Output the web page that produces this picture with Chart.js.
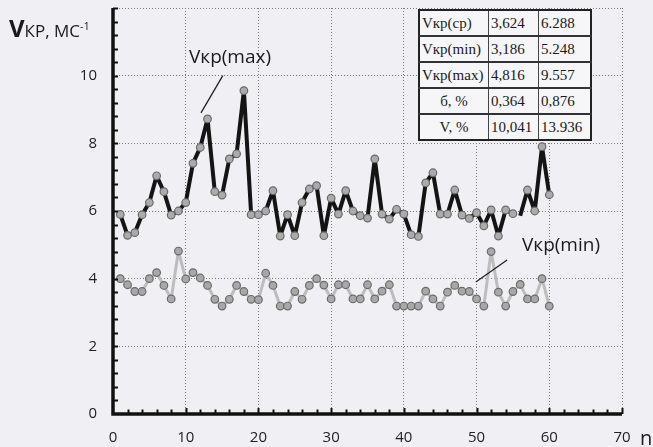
<!DOCTYPE html>
<html>
<head>
<meta charset="utf-8">
<script src="https://cdn.jsdelivr.net/npm/chart.js@4.4.1/dist/chart.umd.min.js"></script>
<style>
  html, body { margin: 0; padding: 0; background: #f0f0f4; }
  #wrap { position: relative; width: 653px; height: 447px; overflow: hidden; }
  #c { position: absolute; left: 0; top: 0; }
  .lbl { position: absolute; font-family: "Open Sans", sans-serif; color: #1a1a1a; white-space: nowrap; }
  #ytitle { left: 9px; top: 11px; font-size: 17px; }
  #ytitle b { font-size: 24px; font-weight: 700; }
  #ytitle sup { font-size: 11px; vertical-align: 7px; }
  #lmax { left: 189px; top: 43px; font-size: 19px; }
  #lmin { left: 522px; top: 231px; font-size: 19px; }
  #nlab { left: 640px; top: 424px; font-size: 20px; }
  #stats { position: absolute; left: 418px; top: 9px; border-collapse: collapse;
           background: #f6f6f8; font-family: "Liberation Serif", "Times New Roman", serif;
           font-size: 15px; color: #1a1a1a; border: 2px solid #222; }
  #stats td { height: 24px; padding: 0 2px; border-top: 2px solid #333; border-left: 1px solid #444;
              line-height: 24px; white-space: nowrap; }
  #stats tr:first-child td { border-top: none; }
  #stats td:first-child { border-left: none; width: 64px; }
  #stats td:nth-child(2) { width: 45px; }
  #stats td:nth-child(3) { width: 47px; }
  #stats td.c { text-align: center; }
</style>
</head>
<body>
<div id="wrap">
  <canvas id="c" width="653" height="447"></canvas>
  <div class="lbl" id="ytitle"><b>V</b>КР, МС<sup>-1</sup></div>
  <div class="lbl" id="lmax">Vкр(max)</div>
  <div class="lbl" id="lmin">Vкр(min)</div>
  <div class="lbl" id="nlab">n</div>
  <table id="stats"></table>
</div>
<script>
// measurement number n
const nValues = [1, 2, 3, 4, 5, 6, 7, 8, 9, 10,
                 11, 12, 13, 14, 15, 16, 17, 18, 19, 20,
                 21, 22, 23, 24, 25, 26, 27, 28, 29, 30,
                 31, 32, 33, 34, 35, 36, 37, 38, 39, 40,
                 41, 42, 43, 44, 45, 46, 47, 48, 49, 50,
                 51, 52, 53, 54, 55, 56, 57, 58, 59, 60];

// Vкр(max), m/s
const vMax = [5.90, 5.28, 5.36, 5.89, 6.25, 7.04, 6.57, 5.88, 6.00, 6.25,
              7.41, 7.88, 8.72, 6.57, 6.47, 7.54, 7.69, 9.557, 5.89, 5.89,
              6.00, 6.60, 5.26, 5.89, 5.27, 6.25, 6.65, 6.75, 5.27, 6.38,
              5.91, 6.60, 6.00, 5.86, 5.79, 7.54, 5.91, 5.76, 6.05, 5.91,
              5.30, 5.248, 6.83, 7.13, 5.91, 5.91, 6.62, 5.88, 5.78, 5.95,
              5.56, 6.03, 5.26, 6.03, 5.92, 5.86, 6.62, 6.00, 7.90, 6.48];

// Vкр(min), m/s
const vMin = [4.00, 3.82, 3.62, 3.62, 4.00, 4.18, 3.80, 3.40, 4.816, 3.99,
              4.18, 4.02, 3.80, 3.39, 3.19, 3.39, 3.80, 3.62, 3.39, 3.38,
              4.16, 3.80, 3.19, 3.19, 3.62, 3.39, 3.80, 4.00, 3.81, 3.40,
              3.82, 3.82, 3.40, 3.40, 3.82, 3.40, 3.63, 3.82, 3.19, 3.19,
              3.19, 3.19, 3.63, 3.40, 3.19, 3.60, 3.80, 3.63, 3.62, 3.40,
              3.19, 4.80, 3.60, 3.19, 3.62, 3.83, 3.40, 3.40, 4.00, 3.186];

// x-axis and y-axis tick labels
const xTicks = [0, 10, 20, 30, 40, 50, 60, 70];
const yTicks = [0, 2, 4, 6, 8, 10];

// summary table: row label, Vкр(min) column, Vкр(max) column
const statLabels = ['Vкр(ср)', 'Vкр(min)', 'Vкр(max)', 'б, %', 'V, %'];
const statMin = ['3,624', '3,186', '4,816', '0,364', '10,041'];
const statMax = ['6.288', '5.248', '9.557', '0,876', '13.936'];

// the max line has a break between these two measurements
const breakFrom = 55, breakTo = 56;

// build the summary table
const tbl = document.getElementById('stats');
statLabels.forEach((lab, i) => {
  const tr = document.createElement('tr');
  const a = document.createElement('td');
  a.textContent = lab;
  if (i >= 3) a.className = 'c';
  const b = document.createElement('td'); b.textContent = statMin[i];
  const c = document.createElement('td'); c.textContent = statMax[i];
  tr.append(a, b, c);
  tbl.appendChild(tr);
});

const toXY = vals => vals.map((v, i) => ({ x: nValues[i], y: v }));

const X_MIN = 0, X_MAX = 70, Y_MIN = 0, Y_MAX = 12;

// thick axes with inward minor ticks, plus label leader lines
const axesPlugin = {
  id: 'axes',
  afterDraw(chart) {
    const { ctx, scales: { x, y } } = chart;
    const px = v => x.getPixelForValue(v);
    const py = v => y.getPixelForValue(v);
    ctx.save();
    ctx.strokeStyle = '#111';
    ctx.lineCap = 'butt';
    ctx.lineWidth = 2;
    for (let k = 1; k <= 30; k++) {
      const yy = Math.round(py(k * 0.4)) + 0.5;
      ctx.beginPath(); ctx.moveTo(px(0), yy); ctx.lineTo(px(0) + 5, yy); ctx.stroke();
    }
    for (let k = 1; k <= 35; k++) {
      const xx = Math.round(px(k * 2)) + 0.5;
      const len = (k % 5 === 0) ? 6 : 4.5;
      ctx.beginPath(); ctx.moveTo(xx, py(0)); ctx.lineTo(xx, py(0) - len); ctx.stroke();
    }
    ctx.lineWidth = 3.5;
    ctx.beginPath();
    ctx.moveTo(px(0), py(Y_MAX));
    ctx.lineTo(px(0), py(0));
    ctx.lineTo(px(X_MAX), py(0));
    ctx.stroke();

    // leader lines for the series labels
    ctx.lineWidth = 1.3;
    ctx.strokeStyle = '#222';
    ctx.beginPath(); ctx.moveTo(px(15.1), py(10.0)); ctx.lineTo(px(12.1), py(8.9)); ctx.stroke();
    ctx.beginPath(); ctx.moveTo(px(54.2), py(4.55)); ctx.lineTo(px(49.9), py(3.9)); ctx.stroke();
    ctx.restore();
  }
};

const tickFont = { family: 'Open Sans', size: 15 };

new Chart(document.getElementById('c'), {
  type: 'line',
  data: {
    datasets: [
      {
        label: 'Vкр(min)',
        data: toXY(vMin),
        borderColor: '#bdbdbd',
        borderWidth: 3,
        borderJoinStyle: 'round',
        pointRadius: 3.8,
        pointBackgroundColor: '#a8a8a8',
        pointBorderColor: '#6a6a6a',
        pointBorderWidth: 1.2,
        tension: 0
      },
      {
        label: 'Vкр(max)',
        data: toXY(vMax),
        borderColor: '#141414',
        borderWidth: 4,
        borderJoinStyle: 'round',
        pointRadius: ctx => (ctx.raw && ctx.raw.x === breakTo) ? 0 : 3.8,
        pointBackgroundColor: '#ababab',
        pointBorderColor: '#6a6a6a',
        pointBorderWidth: 1.2,
        tension: 0,
        segment: {
          borderColor: ctx => (ctx.p0.parsed.x === breakFrom) ? 'rgba(0,0,0,0)' : undefined
        }
      }
    ]
  },
  options: {
    responsive: false,
    animation: false,
    events: [],
    layout: { padding: { top: 8, right: 31, left: 0, bottom: 0 } },
    plugins: { legend: { display: false }, tooltip: { enabled: false } },
    scales: {
      x: {
        type: 'linear',
        min: X_MIN, max: X_MAX,
        afterBuildTicks: s => { s.ticks = xTicks.map(v => ({ value: v })); },
        ticks: { font: tickFont, color: '#222', padding: 15, maxRotation: 0 },
        grid: { color: '#7a7a7a', lineWidth: 1, drawTicks: false },
        border: { display: false, dash: [1, 2] },
        afterFit: s => { s.height = 33; s.paddingLeft = 0; s.paddingRight = 0; }
      },
      y: {
        min: Y_MIN, max: Y_MAX,
        afterBuildTicks: s => { s.ticks = yTicks.concat([Y_MAX]).map(v => ({ value: v })); },
        ticks: {
          font: tickFont, color: '#222', padding: 16,
          callback: v => (yTicks.includes(v) ? String(v) : '')
        },
        grid: { color: '#7a7a7a', lineWidth: 1, drawTicks: false },
        border: { display: false, dash: [1, 2] },
        afterFit: s => { s.width = 113; s.paddingTop = 0; s.paddingBottom = 0; }
      }
    }
  },
  plugins: [axesPlugin]
});
</script>
</body>
</html>
